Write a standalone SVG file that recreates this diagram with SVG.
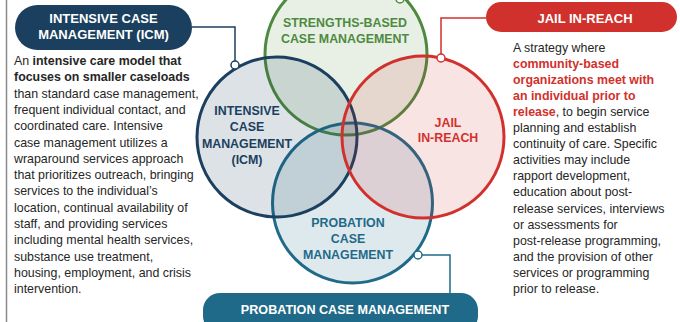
<svg xmlns="http://www.w3.org/2000/svg" width="680" height="322" viewBox="0 0 680 322">
<style>
text{font-family:"Liberation Sans",Arial,sans-serif}
.body{font-size:12.4px;fill:#262626}
.b{font-weight:bold}
.red{fill:#d1312c;font-weight:bold}
.lbl{font-size:12.4px;font-weight:bold;text-anchor:middle}
.pill{font-size:13px;font-weight:bold;fill:#fff;text-anchor:middle}
.ring{stroke-width:3}
.dot{fill:#fff;stroke-width:1.5}
.conn{fill:none;stroke-width:1.5}
</style>
<rect width="680" height="322" fill="#fff"/>
<line x1="6.5" y1="0" x2="6.5" y2="322" stroke="#8a8a8a" stroke-width="1.5"/>

<g id="circles">
<circle id="c-strengths" class="ring" cx="346" cy="54" r="81" fill="#4e8a3e" fill-opacity="0.13" stroke="#4e8a3e"/>
<circle id="c-probation" class="ring" cx="352.5" cy="203" r="80" fill="#1f6a89" fill-opacity="0.15" stroke="#1f6a89"/>
<circle id="c-icm" class="ring" cx="277" cy="137" r="80" fill="#1b3f5e" fill-opacity="0.15" stroke="#1b3f5e"/>
<circle id="c-jail" class="ring" cx="423" cy="137" r="81" fill="#d1312c" fill-opacity="0.13" stroke="#d1312c"/>
</g>

<g id="connectors">
<polyline class="conn" stroke="#1b3f5e" points="192,27 235,27 235,61"/>
<polyline class="conn" stroke="#d1312c" points="486,18 441,18 441,54"/>
<polyline class="conn" stroke="#1f6a89" points="422,255 450,255 450,293"/>
<circle class="dot" cx="235" cy="65" r="4" stroke="#1b3f5e"/>
<circle class="dot" cx="441" cy="58" r="4" stroke="#d1312c"/>
<circle class="dot" cx="418" cy="255" r="4" stroke="#1f6a89"/>
<circle class="dot" cx="400" cy="-1" r="4" stroke="#4e8a3e"/>
</g>

<g id="lbl-strengths">
<text class="lbl" fill="#4e8a3e" x="345" y="26.5">STRENGTHS-BASED</text>
<text class="lbl" fill="#4e8a3e" x="345" y="42.5">CASE MANAGEMENT</text>
</g>
<g id="lbl-icm">
<text class="lbl" fill="#1b3f5e" x="247" y="114.5">INTENSIVE</text>
<text class="lbl" fill="#1b3f5e" x="247" y="131">CASE</text>
<text class="lbl" fill="#1b3f5e" x="247" y="147.5">MANAGEMENT</text>
<text class="lbl" fill="#1b3f5e" x="247" y="164">(ICM)</text>
</g>
<g id="lbl-jail">
<text class="lbl" fill="#d1312c" x="448" y="126.5">JAIL</text>
<text class="lbl" fill="#d1312c" x="448" y="141.5">IN-REACH</text>
</g>
<g id="lbl-probation">
<text class="lbl" fill="#1f6a89" x="348" y="226.5">PROBATION</text>
<text class="lbl" fill="#1f6a89" x="348" y="242.5">CASE</text>
<text class="lbl" fill="#1f6a89" x="348" y="258.5">MANAGEMENT</text>
</g>

<g id="pill-icm">
<rect x="15" y="5" width="177" height="45" rx="22.5" fill="#1b3f5e"/>
<text class="pill" x="103.5" y="23">INTENSIVE CASE</text>
<text class="pill" x="103.5" y="39">MANAGEMENT (ICM)</text>
</g>
<g id="pill-jail">
<rect x="486" y="2" width="191" height="30" rx="15" fill="#d1312c"/>
<text class="pill" x="585" y="22.5">JAIL IN-REACH</text>
</g>
<g id="pill-probation">
<rect x="203" y="293" width="275" height="40" rx="17" fill="#1f6a89"/>
<text class="pill" x="345" y="314" style="font-size:12.6px">PROBATION CASE MANAGEMENT</text>
</g>

<g id="desc-icm">
<text class="body" x="14" y="65">An <tspan class="b">intensive care model that</tspan></text>
<text class="body b" x="14" y="81.3">focuses on smaller caseloads</text>
<text class="body" x="14" y="97.6">than standard case management,</text>
<text class="body" x="14" y="113.9">frequent individual contact, and</text>
<text class="body" x="14" y="130.2">coordinated care. Intensive</text>
<text class="body" x="14" y="146.5">case management utilizes a</text>
<text class="body" x="14" y="162.8">wraparound services approach</text>
<text class="body" x="14" y="179.1">that prioritizes outreach, bringing</text>
<text class="body" x="14" y="195.4">services to the individual’s</text>
<text class="body" x="14" y="211.7">location, continual availability of</text>
<text class="body" x="14" y="228">staff, and providing services</text>
<text class="body" x="14" y="244.3">including mental health services,</text>
<text class="body" x="14" y="260.6">substance use treatment,</text>
<text class="body" x="14" y="276.9">housing, employment, and crisis</text>
<text class="body" x="14" y="293.2">intervention.</text>
</g>

<g id="desc-jail">
<text class="body" x="513" y="51.5">A strategy where</text>
<text class="body red" x="513" y="67.6">community-based</text>
<text class="body red" x="513" y="83.7">organizations meet with</text>
<text class="body red" x="513" y="99.8">an individual prior to</text>
<text class="body" x="513" y="115.9"><tspan class="red">release</tspan>, to begin service</text>
<text class="body" x="513" y="132">planning and establish</text>
<text class="body" x="513" y="148.1">continuity of care. Specific</text>
<text class="body" x="513" y="164.2">activities may include</text>
<text class="body" x="513" y="180.3">rapport development,</text>
<text class="body" x="513" y="196.4">education about post-</text>
<text class="body" x="513" y="212.5">release services, interviews</text>
<text class="body" x="513" y="228.6">or assessments for</text>
<text class="body" x="513" y="244.7">post-release programming,</text>
<text class="body" x="513" y="260.8">and the provision of other</text>
<text class="body" x="513" y="276.9">services or programming</text>
<text class="body" x="513" y="293">prior to release.</text>
</g>
</svg>
